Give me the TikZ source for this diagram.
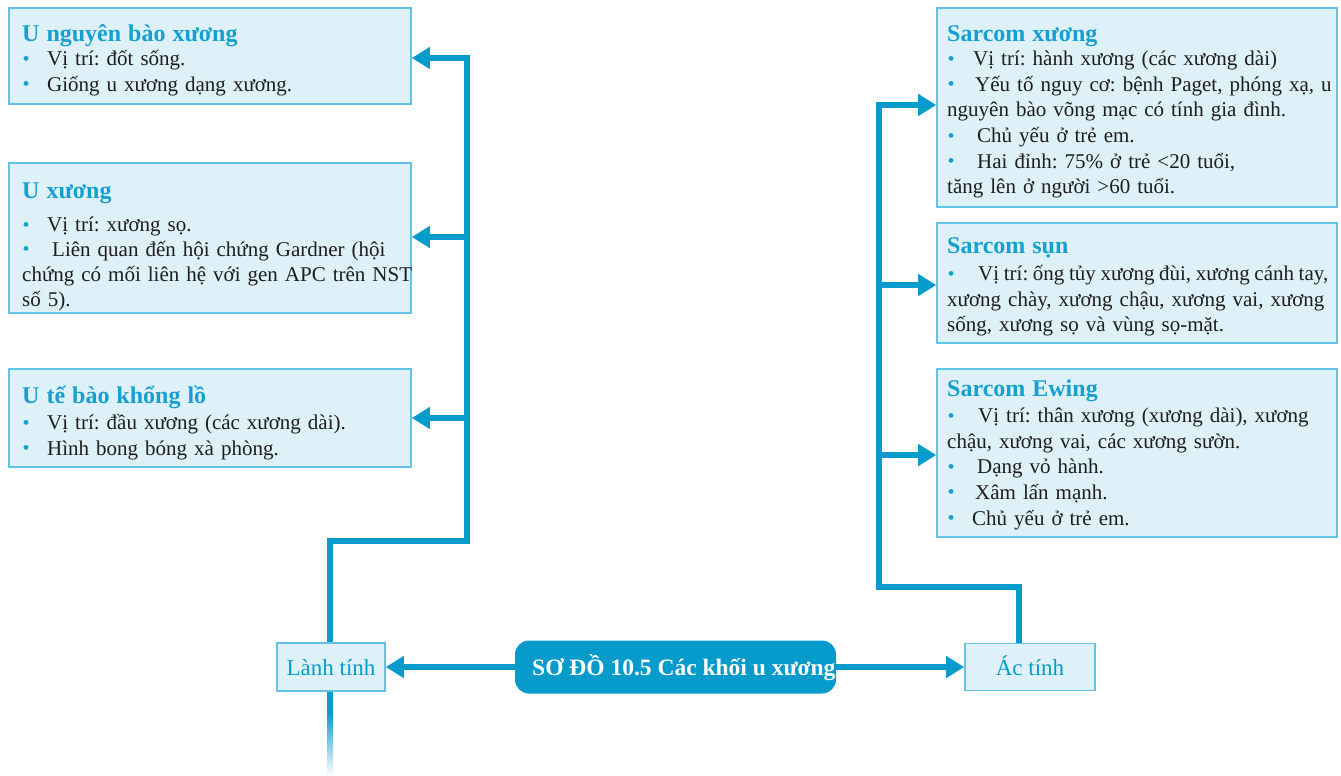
\documentclass[tikz,border=0pt]{standalone}
\usepackage{fontspec}
\setmainfont{Liberation Serif}
\usetikzlibrary{arrows.meta,fit,calc}
\definecolor{flow}{RGB}{6,155,203}
\definecolor{boxfill}{RGB}{222,240,248}
\definecolor{boxline}{RGB}{100,195,228}
\definecolor{headblue}{RGB}{22,160,208}
\definecolor{bodytext}{RGB}{30,30,30}
\frenchspacing
% blue bullet followed by a gap of the given width
\newcommand\blt[1][25pt]{\makebox[#1][l]{\hspace{0.5pt}{\color{headblue}\fontsize{20}{20}\selectfont\raisebox{0.5pt}{•}}}}
% panel heading
\newcommand\hd[1]{{\color{headblue}\fontsize{24}{26}\selectfont\bfseries #1}}
\tikzset{
  panel/.style={draw=boxline, line width=1.6pt, fill=boxfill, inner sep=0pt},
  panetext/.style={anchor=base west, inner sep=0pt, text width=420pt, align=left,
    text=bodytext, font=\fontsize{21}{25.6}\selectfont\frenchspacing},
  flowline/.style={draw=flow, line width=6pt},
  tip/.style={-{Triangle[length=18pt,width=21pt]}},
  tag/.style={panel, text=flow, font=\fontsize{23}{26}\selectfont,
    text height=16pt, text depth=0pt},
}
\begin{document}
\begin{tikzpicture}[x=1pt,y=-1pt]
\useasboundingbox (0,0) rectangle (1341,776);

% ---- benign panels (left) ----
\node[panel, fit={(9,8)(411,104)}] (b1) {};
\node[panetext] (t1) at (22,41.5) {\hd{U nguyên bào xương}\\[-1.3pt]
\blt Vị trí: đốt sống.\\
\blt Giống u xương dạng xương.};

\node[panel, fit={(9,163)(411,313)}] (b2) {};
\node[panetext] (t2) at (22,198.5) {\hd{U xương}\\[7.5pt]
\blt Vị trí: xương sọ.\\[-0.8pt]
\blt[30pt]Liên quan đến hội chứng Gardner (hội\\[-0.8pt]
chứng có mối liên hệ với gen APC trên NST\\[-0.8pt]
số 5).};

\node[panel, fit={(9,369)(411,467)}] (b3) {};
\node[panetext] (t3) at (22,403.5) {\hd{U tế bào khổng lồ}\\[0.5pt]
\blt Vị trí: đầu xương (các xương dài).\\
\blt Hình bong bóng xà phòng.};

% ---- malignant panels (right) ----
\node[panel, fit={(937,8)(1337,207)}] (b4) {};
\node[panetext] (t4) at (947,41.5) {\hd{Sarcom xương}\\[-1.3pt]
\blt[26pt]Vị trí: hành xương (các xương dài)\\
\blt[28pt]Yếu tố nguy cơ: bệnh Paget, phóng xạ, u\\
nguyên bào võng mạc có tính gia đình.\\
\blt[30pt]Chủ yếu ở trẻ em.\\
\blt[30pt]Hai đỉnh: 75\% ở trẻ <20 tuổi,\\
tăng lên ở người >60 tuổi.};

\node[panel, fit={(937,223)(1337,343)}] (b5) {};
\node[panetext] (t5) at (947,253.5) {\hd{Sarcom sụn}\\[1.5pt]
\blt[31pt]{\spaceskip=0.22em plus 0.05em minus 0.02em Vị trí: ống tủy xương đùi, xương cánh tay,}\\
xương chày, xương chậu, xương vai, xương\\
sống, xương sọ và vùng sọ-mặt.};

\node[panel, fit={(937,369)(1337,537)}] (b6) {};
\node[panetext] (t6) at (947,396.5) {\hd{Sarcom Ewing}\\[0.5pt]
\blt[31pt]Vị trí: thân xương (xương dài), xương\\
chậu, xương vai, các xương sườn.\\
\blt[30pt]Dạng vỏ hành.\\
\blt[28pt]Xâm lấn mạnh.\\
\blt[25pt]Chủ yếu ở trẻ em.};

% ---- category tags and central title ----
\node[tag, minimum width=108pt, minimum height=48pt] (lanh) at (331,667) {Lành tính};
\node[tag, minimum width=130pt, minimum height=47pt] (ac) at (1030,667) {Ác tính};
\node[fill=flow, rounded corners=14pt, minimum width=321pt, minimum height=53pt,
  inner sep=0pt] (hub) at (675.5,667) {};

\draw[flowline, tip] (hub.west) -- (hub.west -| lanh.east);
\draw[flowline, tip] (hub.east) -- (hub.east -| ac.west);
\node[anchor=base west, inner sep=0pt, text=white,
  font=\fontsize{23.5}{26}\selectfont\bfseries] (hubtxt) at (532,675) {SƠ ĐỒ 10.5 Các khối u xương};

% ---- benign trunk ----
\coordinate (lk) at (330,541);
\coordinate (lt) at (467,541);
\coordinate (ltop) at (467,58);
\coordinate (l2) at (467,237);
\coordinate (l3) at (467,418);
\draw[flowline, tip] (lk |- lanh.north) -- (lk) -- (lt) -- (ltop) -- (ltop -| b1.east);
\draw[flowline, tip] (l2) -- (l2 -| b2.east);
\draw[flowline, tip] (l3) -- (l3 -| b3.east);

% trunk continuing below the benign tag, fading out
\coordinate (fadestart) at (330,712);
\coordinate (fadeend) at (330,776);
\draw[flowline] (lk |- lanh.south) -- (fadestart);
\shade[top color=flow, bottom color=white] ($(fadestart)+(-3,0)$) rectangle ($(fadeend)+(3,0)$);

% ---- malignant trunk ----
\coordinate (rk) at (1019,587);
\coordinate (rt) at (879,587);
\coordinate (rtop) at (879,105);
\coordinate (r5) at (879,285);
\coordinate (r6) at (879,455);
\draw[flowline, tip] (rk |- ac.north) -- (rk) -- (rt) -- (rtop) -- (rtop -| b4.west);
\draw[flowline, tip] (r5) -- (r5 -| b5.west);
\draw[flowline, tip] (r6) -- (r6 -| b6.west);
\end{tikzpicture}
\end{document}
